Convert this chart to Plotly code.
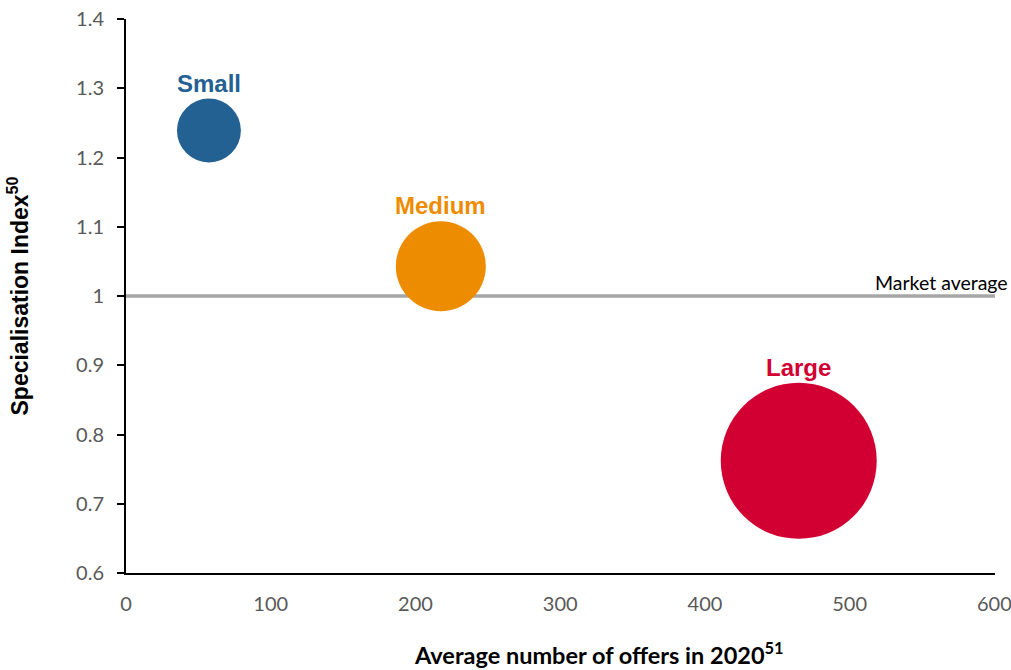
import math
import plotly.graph_objects as go

# Data
segments = ["Small", "Medium", "Large"]
avg_offers = [57.3, 217.5, 464.8]
specialisation_index = [1.239, 1.043, 0.762]
bubble_value = [16.8, 33.3, 100.0]
market_average = 1.0

colors = ["#236192", "#EE8C00", "#D20032"]
x_ticks = [0, 100, 200, 300, 400, 500, 600]
y_ticks = [0.6, 0.7, 0.8, 0.9, 1.0, 1.1, 1.2, 1.3, 1.4]
y_ticktext = ["0.6", "0.7", "0.8", "0.9", "1", "1.1", "1.2", "1.3", "1.4"]

max_diam = 156
sizeref = 2 * max(bubble_value) / (max_diam ** 2)

fig = go.Figure()

for seg, x, y, v, c in zip(segments, avg_offers, specialisation_index, bubble_value, colors):
    fig.add_trace(go.Scatter(
        x=[x], y=[y], mode="markers",
        marker=dict(size=[v], sizemode="area", sizeref=sizeref, color=c,
                    line=dict(width=0), opacity=1),
        showlegend=False, cliponaxis=False, hoverinfo="skip",
    ))
    radius = max_diam * math.sqrt(v / max(bubble_value)) / 2
    fig.add_annotation(x=x, y=y, text=f"<b>{seg}</b>", showarrow=False,
                       yanchor="bottom", yshift=radius,
                       font=dict(family="Liberation Sans, Arial, sans-serif", size=24, color=c))

fig.add_shape(type="line", xref="x domain", yref="y", x0=0, x1=1,
              y0=market_average, y1=market_average,
              line=dict(color="#A6A6A6", width=3.5), layer="below")
fig.add_annotation(xref="paper", yref="y", x=1.017, y=market_average,
                   text="Market average", showarrow=False,
                   xanchor="right", yanchor="bottom", yshift=0,
                   font=dict(family="Lato, Open Sans, sans-serif", size=19.5, color="#000000"))

# x axis title (offset to the right as in the original)
fig.add_annotation(xref="paper", yref="paper", x=0.544, y=-0.176,
                   text="<b>Average number of offers in 2020<sup>51</sup></b>",
                   showarrow=False, xanchor="center", yanchor="bottom",
                   font=dict(family="Lato, Open Sans, sans-serif", size=23.5, color="#000000"))

tickfont = dict(family="Lato, Open Sans, sans-serif", size=20, color="#595959")

fig.update_layout(
    width=1011, height=670,
    margin=dict(l=126, r=16, t=19, b=97, autoexpand=False),
    plot_bgcolor="white", paper_bgcolor="white",
    xaxis=dict(range=[0, 600.4], tickvals=x_ticks, showgrid=False, zeroline=False,
               automargin=False, ticklabelstandoff=12, ticklabeloverflow="allow",
               showline=True, linecolor="#000000", linewidth=2, ticks="",
               tickfont=tickfont),
    yaxis=dict(range=[0.6, 1.4], tickvals=y_ticks, ticktext=y_ticktext,
               showgrid=False, zeroline=False, automargin=False, ticklabelstandoff=9,
               showline=True, linecolor="#000000", linewidth=2, ticks="outside",
               ticklen=7, tickwidth=2, tickcolor="#000000",
               tickfont=tickfont,
               title=dict(text="<b>Specialisation Index<sup>50</sup></b>",
                          font=dict(family="Liberation Sans, Arial, sans-serif", size=23, color="#000000"),
                          standoff=41)),
)

fig.write_html("out.html", config={"displayModeBar": False},
               post_script="document.body.style.margin='0';")
